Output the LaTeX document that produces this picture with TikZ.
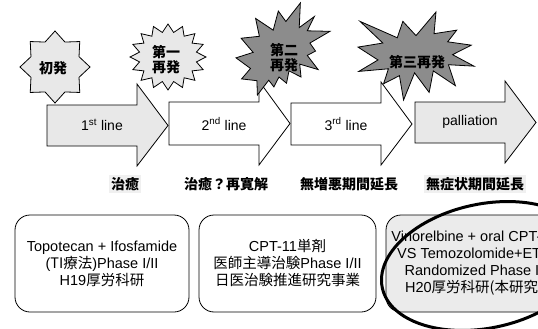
\documentclass[tikz,border=0pt]{standalone}
\usepackage{fontspec}
\setmainfont{Liberation Sans}
\newfontfamily\jp{Noto Sans CJK JP}
\begin{document}
\begin{tikzpicture}[x=1pt,y=-1pt,
  outl/.style={draw=black, line width=0.8pt, line join=miter},
  lightfill/.style={fill=black!9},
  darkfill/.style={fill=black!45},
  arrowtext/.style={font=\fontsize{14}{16}\selectfont, inner sep=0pt},
  startext/.style={font=\jp\bfseries\fontsize{14}{15}\selectfont, align=center, inner sep=0pt},
  outcome/.style={font=\jp\bfseries\fontsize{14}{16}\selectfont, inner sep=2pt},
  rbox/.style={draw=black, line width=0.8pt, rounded corners=15pt, align=center,
    minimum height=97pt, inner sep=0pt, font=\fontsize{14.5}{17}\selectfont}]
\useasboundingbox (0,0) rectangle (538,329);
\clip (0,0) rectangle (538,329);

% ---- arrows ----
\newcommand\flowarrow[4]{%
  \draw[outl, fill=#4] (#1,#2) -- ++(90,0) -- ++(0,-21) -- ({#1+121},{(#2+#3)/2})
    -- ({#1+90},{#3+20}) -- ({#1+90},#3) -- (#1,#3) -- cycle;}
\flowarrow{47}{105}{146}{black!9}
\flowarrow{169}{102}{145}{white}
\flowarrow{291}{103}{145}{white}
\flowarrow{415}{102}{143}{black!9}

\node[arrowtext] (a1) at (102,125) {1\textsuperscript{st} line};
\node[arrowtext] (a2) at (224,124) {2\textsuperscript{nd} line};
\node[arrowtext] (a3) at (346,124) {3\textsuperscript{rd} line};
\node[arrowtext] (a4) at (470,122) {palliation};

% ---- stars ----
\draw[outl, lightfill] plot[samples at={0,...,15}, variable=\k]
  ({55+(mod(\k,2)==0?35:26)*sin(\k*22.5)}, {67-(mod(\k,2)==0?36:27)*cos(\k*22.5)}) -- cycle;
\draw[outl, lightfill] plot[samples at={0,...,31}, variable=\k]
  ({168+(mod(\k,2)==0?38:29)*sin(\k*11.25)}, {57-(mod(\k,2)==0?33:25)*cos(\k*11.25)}) -- cycle;
\begin{scope}[shift={(236,3)}, xscale=0.94, yscale=0.92]
\draw[outl, darkfill] (53.06,20.10) -- (68.47,0) -- (67.25,26.75) -- (83.37,14.69) -- (75.83,30.24)
 -- (100,30.76) -- (78.63,43.53) -- (84.58,52.27) -- (75.83,56.99) -- (87.39,72.37) -- (67.78,66.44)
 -- (69.18,80.42) -- (56.39,73.77) -- (53.76,87.23) -- (45.70,80.42) -- (40.28,91.26) -- (34.85,83.91)
 -- (22.76,100) -- (22.25,84.44) -- (5.95,82.52) -- (15.42,71.16) -- (0,59.62) -- (18.22,53.67)
 -- (5.43,38.29) -- (24.87,36.19) -- (20.84,16.78) -- (39.58,29.55) -- (45.01,8.74) -- cycle;
\end{scope}
\begin{scope}[shift={(358,12)}, xscale=1.16, yscale=0.88]
\draw[outl, darkfill] (50.0,26.85) -- (67.23,0) -- (65.53,24.65) -- (85.09,20.63) -- (77.32,33.87)
 -- (97.67,37.67) -- (81.51,48.50) -- (100,61.53) -- (77.95,59.92) -- (84.00,83.77) -- (64.91,66.93)
 -- (61.33,91.38) -- (48.76,69.14) -- (39.28,100) -- (35.72,72.35) -- (22.05,81.56) -- (26.24,64.52)
 -- (0.63,67.53) -- (17.23,54.51) -- (0,39.88) -- (21.42,35.26) -- (1.71,10.63) -- (33.85,29.26)
 -- (38.67,10.63) -- cycle;
\end{scope}

\node[startext] (s0) at (53,68) {初発};
\node[startext] (s1) at (166,60) {第一\\再発};
\node[startext] (s2) at (284,58) {第二\\再発};
\node[startext] (s3) at (417,62) {第三再発};

% ---- outcomes ----
\node[outcome, fill=black!6] (o1) at (125,184) {治癒};
\node[outcome] (o2) at (226,184) {治癒？再寛解};
\node[outcome] (o3) at (349,184) {無増悪期間延長};
\node[outcome, fill=black!6] (o4) at (475,184) {無症状期間延長};

% ---- boxes ----
\node[rbox, minimum width=174pt] (b1) at (102,263.5)
  {Topotecan + Ifosfamide\\({\jp TI療法})Phase I/II\\H19{\jp 厚労科研}};
\node[rbox, minimum width=177pt] (b2) at (287.5,263.5)
  {CPT-11{\jp 単剤}\\{\jp 医師主導治験}Phase I/II\\{\jp 日医治験推進研究事業}};
\node[rbox, minimum width=176pt, fill=black!8] (b3) at (474,263.5)
  {Vinorelbine + oral CPT-11\\VS Temozolomide+ETP\\Randomized Phase II\\H20{\jp 厚労科研(本研究)}};

% ---- highlight ellipse ----
\draw[line width=3pt, rotate around={12:(485,266)}] (485,266) ellipse [x radius=105, y radius=62];
\end{tikzpicture}
\end{document}
